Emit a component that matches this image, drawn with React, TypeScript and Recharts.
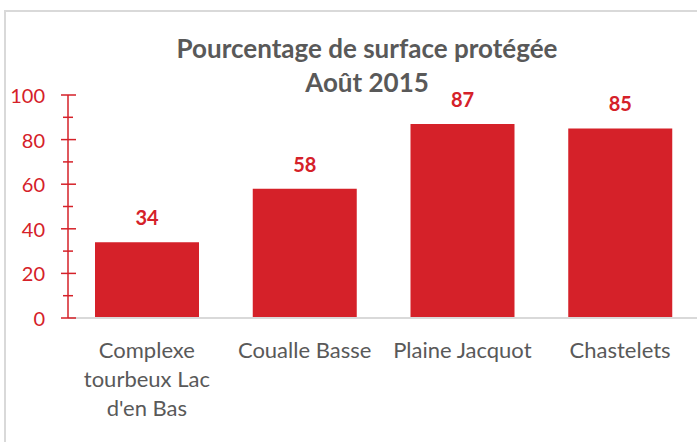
import React from 'react';
import { BarChart, Bar, XAxis, YAxis, LabelList } from 'recharts';

const categories = ["Complexe tourbeux Lac d'en Bas", 'Coualle Basse', 'Plaine Jacquot', 'Chastelets'];
const categoryLines = [["Complexe", "tourbeux Lac", "d'en Bas"], ['Coualle Basse'], ['Plaine Jacquot'], ['Chastelets']];
const values = [34, 58, 87, 85];
const yTicks = [0, 10, 20, 30, 40, 50, 60, 70, 80, 90, 100];
const majorTicks = [0, 20, 40, 60, 80, 100];
const titleLines = ['Pourcentage de surface protégée', 'Août 2015'];

const RED = '#D52129';
const GRAY_TEXT = '#595959';
const FONT = 'Lato, "Noto Sans", sans-serif';

const data = categories.map((c, i) => ({ name: c, value: values[i], lines: categoryLines[i] }));

const YTick = (props: any) => {
  const { x, y, payload } = props;
  const v = payload.value;
  const major = majorTicks.includes(v);
  return (
    <g>
      {major ? (
        <line x1={x - 7} x2={x + 8} y1={y} y2={y} stroke={RED} strokeWidth={1.5} />
      ) : (
        <line x1={x - 5} x2={x + 5} y1={y} y2={y} stroke={RED} strokeWidth={1.5} />
      )}
      {major && (
        <text x={x - 23} y={y} textAnchor="end" dominantBaseline="central" fill={RED} fontSize={20} fontFamily={FONT}>
          {v}
        </text>
      )}
    </g>
  );
};

const XTick = (props: any) => {
  const { x, y, index } = props;
  const lines = categoryLines[index] || [];
  return (
    <g>
      {lines.map((l: string, i: number) => (
        <text key={i} x={x} y={y + 31 + i * 29} textAnchor="middle" dominantBaseline="central" fill={GRAY_TEXT} fontSize={22} fontFamily={FONT}>
          {l}
        </text>
      ))}
    </g>
  );
};

const BarLabel = (props: any) => {
  const { x, y, width, value } = props;
  return (
    <text x={x + width / 2} y={y - 25} textAnchor="middle" dominantBaseline="central" fill={RED} fontSize={20} fontWeight="bold" fontFamily={FONT}>
      {value}
    </text>
  );
};

export default function App() {
  return (
    <div style={{ position: 'absolute', left: 0, top: 0, width: 697, height: 442, overflow: 'hidden', background: '#fff' }}>
      <div style={{ position: 'absolute', left: 4, top: 10, width: 1000, height: 1000, borderLeft: '2px solid #d9d9d9', borderTop: '2px solid #d9d9d9' }} />
      <div style={{ position: 'absolute', left: 0, top: 0 }}>
        <BarChart width={700} height={442} data={data} margin={{ top: 95, right: 1, left: 8, bottom: 24 }}>
          <XAxis
            dataKey="name"
            axisLine={{ stroke: '#d9d9d9', strokeWidth: 2 }}
            tickLine={false}
            tickSize={0}
            tickMargin={0}
            interval={0}
            height={100}
            tick={<XTick />}
          />
          <YAxis
            width={60}
            domain={[0, 100]}
            ticks={yTicks}
            interval={0}
            axisLine={{ stroke: RED, strokeWidth: 1.5 }}
            tickLine={false}
            tickSize={0}
            tickMargin={0}
            tick={<YTick />}
          />
          <Bar dataKey="value" fill={RED} barSize={104} isAnimationActive={false}>
            <LabelList dataKey="value" content={<BarLabel />} />
          </Bar>
        </BarChart>
      </div>
      <div style={{ position: 'absolute', left: 117, top: 31, width: 500, textAlign: 'center', fontFamily: FONT, fontWeight: 'bold', fontSize: 26, color: GRAY_TEXT, lineHeight: '34px' }}>
        <div>{titleLines[0]}</div>
        <div>{titleLines[1]}</div>
      </div>
    </div>
  );
}
